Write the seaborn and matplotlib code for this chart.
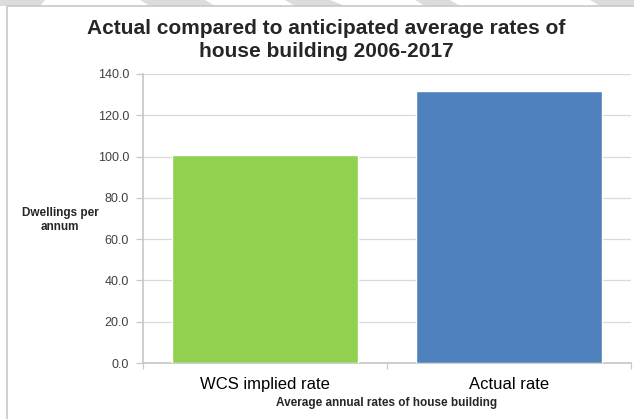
import matplotlib
matplotlib.use("Agg")
import matplotlib.pyplot as plt
import seaborn as sns
import pandas as pd
from matplotlib.patches import Polygon, Rectangle

# values
categories = ["WCS implied rate", "Actual rate"]
dwellings = [100.6, 131.8]
bar_colors = ["#92d050", "#4f81bd"]
y_ticks = [0, 20, 40, 60, 80, 100, 120, 140]

sns.set_theme(style="white")
plt.rcParams["font.family"] = ["Liberation Sans", "DejaVu Sans"]

df = pd.DataFrame({"category": categories, "value": dwellings})

fig = plt.figure(figsize=(6.34, 4.19), dpi=100)
W, H = 634, 419

# faint watermark strip and frame at the top/left
for xs in [(0, 45, 40, 0), (140, 205, 215, 150), (285, 330, 345, 295),
           (415, 450, 460, 425), (590, 634, 634, 600)]:
    pts = [(xs[0] / W, 1), (xs[1] / W, 1), (xs[2] / W, 1 - 6 / H), (xs[3] / W, 1 - 6 / H)]
    fig.patches.append(Polygon(pts, closed=True, transform=fig.transFigure,
                               facecolor="#dcdcdc", edgecolor="none", zorder=-2))
fig.patches.append(Rectangle((7 / W, -0.1), 1.2, (1 - 6.5 / H) + 0.1, transform=fig.transFigure,
                             facecolor="white", edgecolor="#c8c8c8", linewidth=1.2, zorder=-1))

ax = fig.add_axes([143 / W, 1 - 363 / H, 488 / W, 289 / H])
ax.set_facecolor("none")

sns.barplot(data=df, x="category", y="value", hue="category", palette=bar_colors,
            width=0.76, saturation=1, legend=False, ax=ax, zorder=3)

ax.set_xlim(-0.5, 1.5)
ax.set_ylim(0, 140)
ax.set_yticks(y_ticks)
ax.set_yticklabels([f"{v:.1f}" for v in y_ticks], fontsize=9, color="#404040")
ax.yaxis.grid(True, color="#d9d9d9", linewidth=0.9, zorder=0)
ax.set_axisbelow(True)

for side in ["top", "right"]:
    ax.spines[side].set_visible(False)
ax.spines["left"].set_color("#c8c8c8")
ax.spines["bottom"].set_color("#c8c8c8")

ax.tick_params(axis="y", which="major", direction="out", length=5, width=0.9,
               color="#c8c8c8", pad=5, left=True)
ax.tick_params(axis="x", which="major", length=0, labelsize=12, pad=10, colors="#000000")
ax.set_xticks([-0.5, 0.5, 1.5], minor=True)
ax.tick_params(axis="x", which="minor", direction="out", length=4, width=0.9,
               color="#c8c8c8", bottom=True)

ax.set_xlabel("Average annual rates of house building", fontsize=8.5,
              fontweight="bold", labelpad=4)
ax.set_ylabel("Dwellings per\nannum", fontsize=8.5, fontweight="bold",
              rotation=0, ha="center", va="center", multialignment="center")
ax.yaxis.set_label_coords(-0.17, 0.495)

fig.text(326 / W, 1 - 19 / H,
         "Actual compared to anticipated average rates of\nhouse building 2006-2017",
         ha="center", va="top", fontsize=15, fontweight="bold", linespacing=1.25)

fig.savefig("out.png", dpi=100)
